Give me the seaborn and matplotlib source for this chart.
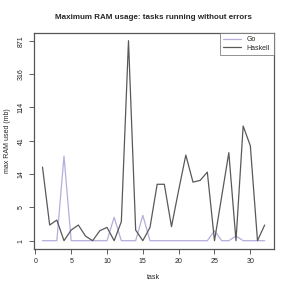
import numpy as np
import pandas as pd
import matplotlib
matplotlib.use('Agg')
import matplotlib.pyplot as plt
import seaborn as sns
from matplotlib.lines import Line2D

# max RAM used (mb) per task
tasks = list(range(1, 33))
go_mb = [1, 1, 1, 25.0, 1, 1, 1, 1, 1, 1, 3.1, 1, 1, 1, 3.4, 1,
         1, 1, 1, 1, 1, 1, 1, 1, 1.62, 1, 1, 1.25, 1, 1, 1, 1]
haskell_mb = [17.5, 2.13, 2.71, 1.0, 1.67, 2.13, 1.25, 1.0, 1.62, 1.9, 1.0, 2.5,
              871, 1.67, 1.0, 1.9, 10.2, 10.2, 1.97, 8.5, 25.8, 10.9, 11.5, 14.9,
              1.0, 6.95, 27.9, 1.0, 64.3, 34.9, 1.0, 2.13]
ytick_mb = [1, 5, 14, 41, 114, 316, 871]
xtick_vals = [0, 5, 10, 15, 20, 25, 30]

df = pd.DataFrame({
    'task': tasks * 2,
    'ram': go_mb + haskell_mb,
    'lang': ['Go'] * len(tasks) + ['Haskell'] * len(tasks),
})

# y axis: tick labels evenly spaced, log inside each step
lt = np.log(ytick_mb)
kk = np.arange(len(ytick_mb), dtype=float)
s0 = 1.0 / (lt[1] - lt[0])
s1 = 1.0 / (lt[-1] - lt[-2])


def fwd(v):
    x = np.log(np.clip(np.asarray(v, dtype=float), 1e-12, None))
    out = np.interp(x, lt, kk)
    out = np.where(x < lt[0], (x - lt[0]) * s0, out)
    out = np.where(x > lt[-1], kk[-1] + (x - lt[-1]) * s1, out)
    return out


def inv(k):
    k = np.asarray(k, dtype=float)
    x = np.interp(k, kk, lt)
    x = np.where(k < 0, lt[0] + k / s0, x)
    x = np.where(k > kk[-1], lt[-1] + (k - kk[-1]) / s1, x)
    return np.exp(x)


sns.set_theme(style='white')
plt.rcParams['font.family'] = ['Liberation Sans', 'DejaVu Sans']

fig = plt.figure(figsize=(2.91, 2.91), dpi=100)
ax = fig.add_axes([0.1155, 0.1454, 0.8245, 0.7422])

palette = {'Go': '#b8acdc', 'Haskell': '#595959'}
sns.lineplot(data=df, x='task', y='ram', hue='lang', palette=palette,
             linewidth=0.9, ax=ax, legend=False)

ax.set_yscale('function', functions=(fwd, inv))
ax.set_xlim(1 - 0.04 * 31, 32 + 0.04 * 31)
ax.set_ylim(float(inv(-0.24)), float(inv(6.24)))
ax.set_yticks(ytick_mb)
ax.set_yticklabels([str(v) for v in ytick_mb], rotation=90, va='center')
ax.set_xticks(xtick_vals)
ax.set_xticklabels([str(v) for v in xtick_vals])
ax.minorticks_off()
ax.tick_params(axis='both', which='major', direction='out', length=3.5,
               width=0.6, color='#444444', labelsize=5, pad=3,
               left=True, bottom=True, labelcolor='#222222')

for sp in ax.spines.values():
    sp.set_color('#555555')
    sp.set_linewidth(0.9)

ax.set_title('Maximum RAM usage: tasks running without errors',
             fontsize=5.8, fontweight='bold', pad=10)
ax.set_xlabel('task', fontsize=5, labelpad=7)
ax.set_ylabel('max RAM used (mb)', fontsize=5, labelpad=5)

handles = [Line2D([0], [0], color=palette['Go'], lw=0.9),
           Line2D([0], [0], color=palette['Haskell'], lw=0.9)]
leg = ax.legend(handles, ['Go', 'Haskell'], loc='upper right', fontsize=5,
                frameon=True, fancybox=False, borderaxespad=0,
                handlelength=2.6, handletextpad=0.8, borderpad=0.5,
                labelspacing=0.2)
leg.get_frame().set_edgecolor('#777777')
leg.get_frame().set_linewidth(0.7)

fig.savefig('out.png', dpi=100)
